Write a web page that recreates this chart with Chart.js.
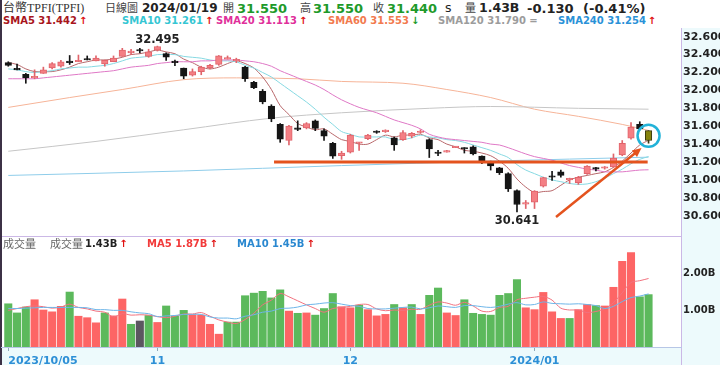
<!DOCTYPE html>
<html><head><meta charset="utf-8">
<script src="https://cdn.jsdelivr.net/npm/chart.js@4.4.1/dist/chart.umd.min.js"></script>
<style>
html,body{margin:0;padding:0;background:#fff;}
#wrap{position:relative;width:720px;height:365px;overflow:hidden;background:#fff;}
.t{position:absolute;white-space:nowrap;line-height:1;}
.cj{font-family:"Liberation Serif","Noto Sans CJK TC",serif;font-size:12px;color:#333;}
.ck{font-family:"Noto Sans CJK TC",sans-serif;font-size:11px;color:#444;}
.cv{font-family:"Noto Sans CJK TC",sans-serif;font-size:11px;color:#666;}
.b{font-family:"DejaVu Sans",sans-serif;font-weight:bold;}
.h{font-size:12.5px;color:#222;}
.h13{font-size:13px;}
.g{color:#1e9a2a;}
.lg{font-size:10px;}
.up{color:#e01010;margin-left:2px;}
.dn{color:#1a9a2a;margin-left:2px;}
canvas{position:absolute;left:0;}
</style></head>
<body><div id="wrap">
<div style="position:absolute;left:681px;top:28px;width:39px;height:337px;background:#edfafc;border-left:1px solid #cbb8e6"></div>
<div style="position:absolute;left:0;top:347px;width:681px;height:18px;background:#edfafc"></div>
<div style="position:absolute;left:0;top:236px;width:681px;height:1px;background:#cbb8e6"></div>
<div style="position:absolute;left:0;top:0;width:2px;height:365px;background:#3c3146"></div>
<canvas id="pc" width="720" height="200" style="top:28px"></canvas>
<canvas id="vc" width="720" height="129" style="top:236px"></canvas>

<span class="t cj" style="left:3px;top:2px">台幣TPFI(TPFI)</span>
<span class="t ck" style="left:105px;top:2px">日線圖</span>
<span class="t b h" style="left:142px;top:2px;font-size:12px">2024/01/19</span>
<span class="t ck" style="left:223px;top:2px">開</span>
<span class="t b h h13 g" style="left:237px;top:2px">31.550</span>
<span class="t ck" style="left:300px;top:2px">高</span>
<span class="t b h h13 g" style="left:313px;top:2px">31.550</span>
<span class="t ck" style="left:373px;top:2px">收</span>
<span class="t b h h13 g" style="left:387px;top:2px">31.440</span>
<span class="t h" style="left:445px;top:2px;font-family:'DejaVu Sans'">s</span>
<span class="t ck" style="left:465px;top:2px">量</span>
<span class="t b h" style="left:479px;top:2px">1.43B</span>
<span class="t b h h13" style="left:527px;top:2px;word-spacing:5px">-0.130 (-0.41%)</span>

<span class="t b lg" style="left:3px;top:16px;color:#a8151b">SMA5 31.442<span class="up">↑</span></span>
<span class="t b lg" style="left:122px;top:16px;color:#35c6d3">SMA10 31.261<span class="up">↑</span></span>
<span class="t b lg" style="left:216px;top:16px;color:#e0309a">SMA20 31.113<span class="up">↑</span></span>
<span class="t b lg" style="left:328px;top:16px;color:#f27a4e">SMA60 31.553<span class="dn">↓</span></span>
<span class="t b lg" style="left:438px;top:16px;color:#9c9c9c">SMA120 31.790 =</span>
<span class="t b lg" style="left:558px;top:16px;color:#2a92d8">SMA240 31.254<span class="up">↑</span></span>

<span class="t cv" style="left:3px;top:238px">成交量</span>
<span class="t cv" style="left:50px;top:238px">成交量</span>
<span class="t b lg" style="left:85px;top:239px;color:#222">1.43B<span class="up">↑</span></span>
<span class="t b lg" style="left:147px;top:239px;color:#f23b3b">MA5 1.87B<span class="up">↑</span></span>
<span class="t b lg" style="left:237px;top:239px;color:#2a88d0">MA10 1.45B<span class="up">↑</span></span>
</div>
<script>
const dates = ['2023/10/05','2023/10/06','2023/10/11','2023/10/12','2023/10/13','2023/10/16','2023/10/17','2023/10/18','2023/10/19','2023/10/20','2023/10/23','2023/10/24','2023/10/25','2023/10/26','2023/10/27','2023/10/30','2023/10/31',
'2023/11/01','2023/11/02','2023/11/03','2023/11/06','2023/11/07','2023/11/08','2023/11/09','2023/11/10','2023/11/13','2023/11/14','2023/11/15','2023/11/16','2023/11/17','2023/11/20','2023/11/21','2023/11/22','2023/11/23','2023/11/24','2023/11/27','2023/11/28','2023/11/29','2023/11/30',
'2023/12/01','2023/12/04','2023/12/05','2023/12/06','2023/12/07','2023/12/08','2023/12/11','2023/12/12','2023/12/13','2023/12/14','2023/12/15','2023/12/18','2023/12/19','2023/12/20','2023/12/21','2023/12/22','2023/12/25','2023/12/26','2023/12/27','2023/12/28','2023/12/29',
'2024/01/02','2024/01/03','2024/01/04','2024/01/05','2024/01/08','2024/01/09','2024/01/10','2024/01/11','2024/01/12','2024/01/15','2024/01/16','2024/01/17','2024/01/18','2024/01/19'];

const openP  = [32.31,32.23,32.18,32.14,32.19,32.25,32.27,32.32,32.32,32.34, 32.33,32.295,32.32,32.38,32.42,32.45,32.38,32.45,32.41,32.32, 32.25,32.17,32.21,32.25,32.29,32.35,32.33,32.26,32.09,31.99, 31.825,31.62,31.44,31.57,31.58,31.66,31.55,31.41,31.27,31.31, 31.41,31.46,31.535,31.54,31.47,31.45,31.49,31.53,31.45,31.30, 31.31,31.36,31.35,31.37,31.265,31.20,31.135,31.07,30.88,30.73, 30.75,30.93,31.035,31.09,31.00,30.97,31.07,31.125,31.13,31.145, 31.28,31.465,31.62,31.55];
const highP  = [32.32,32.295,32.19,32.23,32.26,32.31,32.335,32.39,32.395,32.385, 32.385,32.34,32.385,32.47,32.46,32.47,32.46,32.495,32.42,32.34, 32.25,32.24,32.27,32.29,32.39,32.385,32.36,32.27,32.10,32.01, 31.84,31.63,31.61,31.66,31.64,31.67,31.57,31.42,31.32,31.51, 31.42,31.51,31.55,31.56,31.48,31.55,31.53,31.56,31.46,31.33, 31.33,31.37,31.36,31.38,31.27,31.21,31.14,31.08,30.89,30.77, 30.88,31.03,31.095,31.11,31.02,31.04,31.16,31.14,31.15,31.29, 31.44,31.64,31.65,31.55];
const lowP   = [32.27,32.23,32.08,32.13,32.19,32.24,32.26,32.29,32.32,32.34, 32.33,32.27,32.32,32.38,32.40,32.42,32.37,32.44,32.335,32.275, 32.13,32.16,32.175,32.24,32.28,32.35,32.31,32.10,32.02,31.85, 31.65,31.42,31.39,31.55,31.57,31.55,31.44,31.24,31.23,31.30, 31.33,31.45,31.52,31.53,31.33,31.44,31.47,31.52,31.25,31.27, 31.31,31.36,31.30,31.28,31.18,31.11,31.06,30.87,30.641,30.68, 30.68,30.92,30.995,31.03,30.96,30.95,31.06,31.10,31.12,31.14, 31.27,31.455,31.56,31.41];
const closeP = [32.28,32.23,32.14,32.15,32.23,32.30,32.32,32.31,32.335,32.34, 32.36,32.335,32.36,32.45,32.44,32.44,32.43,32.49,32.37,32.31, 32.16,32.21,32.26,32.28,32.385,32.36,32.34,32.13,32.03,31.87, 31.68,31.455,31.60,31.565,31.63,31.575,31.49,31.265,31.30,31.50, 31.42,31.50,31.53,31.545,31.39,31.53,31.52,31.54,31.345,31.295, 31.32,31.365,31.345,31.29,31.205,31.155,31.08,30.90,30.725,30.74, 30.875,31.025,31.03,31.05,31.015,31.03,31.155,31.12,31.135,31.245, 31.41,31.59,31.57,31.44];
const closeBeforeFirst = 32.31;

const volume = [1.18,0.93,1.09,1.29,1.01,0.96,1.11,1.50,0.84,0.80, 0.66,0.93,0.85,1.31,0.62,0.71,0.86,0.67,1.12,0.84, 1.00,0.88,0.87,0.62,0.35,0.68,0.68,1.40,1.47,1.52, 1.34,1.56,0.98,0.92,0.93,0.87,1.05,1.46,1.10,1.07, 1.14,1.02,0.85,0.89,1.16,1.07,1.16,0.89,1.41,1.61, 0.93,0.86,1.29,0.92,0.89,0.87,1.41,1.46,1.84,1.07, 1.02,1.49,0.96,0.78,0.78,1.02,1.16,1.13,1.12,1.63, 2.34,2.58,1.37,1.43];
const volMa5 = [1.00,1.05,1.10,1.12,1.10,1.06,1.09,1.17,1.08,1.04, 0.98,0.95,0.82,0.91,0.87,0.88,0.87,0.83,0.80,0.84, 0.90,0.90,0.94,0.84,0.74,0.68,0.64,0.75,0.92,1.15, 1.28,1.46,1.37,1.26,1.15,1.05,0.95,1.05,1.08,1.11, 1.16,1.16,1.04,0.99,1.01,1.00,1.03,1.03,1.14,1.23, 1.20,1.14,1.22,1.12,0.98,0.97,1.08,1.11,1.29,1.33, 1.36,1.38,1.28,1.06,1.01,1.01,0.94,0.97,1.04,1.21, 1.48,1.76,1.81,1.87];
const volMa10 = [1.05,1.05,1.06,1.07,1.08,1.08,1.08,1.08,1.08,1.07, 1.02,1.02,1.00,1.00,0.96,0.93,0.91,0.83,0.85,0.86, 0.89,0.89,0.89,0.82,0.79,0.79,0.77,0.84,0.88,0.95, 0.98,1.05,1.06,1.09,1.15,1.17,1.20,1.21,1.17,1.13, 1.11,1.05,1.04,1.04,1.06,1.08,1.09,1.04,1.07,1.12, 1.10,1.08,1.13,1.13,1.10,1.08,1.11,1.17,1.21,1.15, 1.16,1.23,1.19,1.18,1.17,1.18,1.16,1.13,1.05,1.11, 1.24,1.35,1.39,1.45];

const sma5 = [32.31,32.29,32.24,32.21,32.21,32.21,32.23,32.26,32.30,32.32, 32.34,32.34,32.35,32.37,32.40,32.41,32.43,32.45,32.43,32.41, 32.35,32.31,32.26,32.24,32.26,32.30,32.33,32.30,32.25,32.15, 32.01,31.83,31.73,31.63,31.59,31.56,31.57,31.51,31.45,31.43, 31.40,31.40,31.45,31.50,31.48,31.50,31.50,31.51,31.47,31.45, 31.40,31.37,31.33,31.32,31.30,31.27,31.21,31.13,31.01,30.92, 30.86,30.87,30.88,30.94,31.00,31.03,31.05,31.07,31.09,31.14, 31.21,31.30,31.39,31.442];
const sma10 = [32.24,32.23,32.21,32.20,32.21,32.22,32.24,32.25,32.26,32.26, 32.27,32.28,32.30,32.33,32.36,32.37,32.38,32.40,32.40,32.40, 32.38,32.37,32.36,32.34,32.33,32.33,32.32,32.28,32.25,32.20, 32.15,32.08,32.01,31.94,31.87,31.79,31.70,31.62,31.54,31.51, 31.48,31.48,31.48,31.48,31.45,31.45,31.47,31.50,31.48,31.47, 31.45,31.44,31.42,31.39,31.36,31.33,31.29,31.25,31.17,31.11, 31.07,31.03,31.00,30.98,30.96,30.95,30.955,30.98,31.02,31.07, 31.12,31.18,31.23,31.261];
const sma20 = [32.13,32.13,32.13,32.13,32.14,32.15,32.16,32.17,32.18,32.19, 32.20,32.21,32.22,32.24,32.26,32.27,32.28,32.30,32.31,32.32, 32.32,32.32,32.33,32.33,32.34,32.34,32.34,32.33,32.32,32.30, 32.27,32.22,32.18,32.14,32.10,32.06,32.01,31.95,31.895,31.85, 31.81,31.78,31.75,31.71,31.67,31.64,31.61,31.57,31.51,31.48, 31.46,31.45,31.44,31.43,31.42,31.40,31.39,31.36,31.325,31.29, 31.26,31.24,31.22,31.19,31.16,31.14,31.12,31.11,31.09,31.09, 31.09,31.10,31.11,31.113];
const sma60Idx = [0,7,13,20,26,33,38,45,50,55,60,65,70,73];
const sma60    = [31.81,31.92,32.01,32.12,32.14,32.13,32.10,32.08,32.01,31.92,31.79,31.71,31.62,31.553];
const sma120Idx = [0,10,20,30,38,48,55,65,73];
const sma120    = [31.32,31.43,31.56,31.69,31.75,31.80,31.82,31.80,31.79];
const sma240Idx = [0,20,38,55,73];
const sma240    = [31.05,31.10,31.16,31.21,31.254];

const priceTicks = [32.6,32.4,32.2,32.0,31.8,31.6,31.4,31.2,31.0,30.8,30.6];
const volTicks = [1,2];

const supportLevel = 31.2, supportFrom = 30.3, supportTo = 72.9;
const arrowFrom = [62.45, 30.585], arrowTo = [72.2, 31.356];
const highlightIdx = 73, highlightPrice = 31.493;

const X_MIN = -0.83, X_MAX = 76.7;
const P_MIN = 30.4626, P_MAX = 32.6972;
const V_MAX = 3.03;

const idx = closeP.map((_, i) => i);
const RED = '#f47f84', RED_B = '#e0646b', BLK = '#151515', LAST = '#85830e', LAST_B = '#3a3a10';
const candleFill = idx.map(i => i === highlightIdx ? LAST : (closeP[i] > openP[i] ? RED : BLK));
const candleEdge = idx.map(i => i === highlightIdx ? LAST_B : (closeP[i] > openP[i] ? RED_B : BLK));
const volColor = idx.map(i => {
  const prev = i ? closeP[i-1] : closeBeforeFirst;
  return closeP[i] > prev ? '#fd6565' : (closeP[i] < prev ? '#5cb95c' : '#5b5660');
});

const monthStarts = idx.filter(i => i === 0 || dates[i].slice(0,7) !== dates[i-1].slice(0,7));
function tickLabel(v) {
  const k = monthStarts.indexOf(v);
  if (k < 0) return '';
  if (v === 0) return dates[0];
  const prev = dates[monthStarts[k-1]];
  const d = dates[v];
  if (d.slice(0,4) !== prev.slice(0,4)) return d.slice(0,7);
  return String(parseInt(d.slice(5,7), 10));
}

function fullLine(arr, color) {
  return {type:'line', data: arr.map((v, i) => ({x:i, y:v})), borderColor:color, borderWidth:1,
    pointRadius:0, tension:0.3, fill:false, order:10};
}
function sparseLine(ix, arr, color) {
  return {type:'line', data: ix.map((v, k) => ({x:v, y:arr[k]})), borderColor:color, borderWidth:1,
    pointRadius:0, cubicInterpolationMode:'monotone', fill:false, order:11};
}
function fixY(s) { s.width = 39; s.paddingTop = 0; s.paddingBottom = 0; }

const notes = {
  id: 'notes',
  afterDatasetsDraw(chart) {
    const {ctx, scales:{x, y}} = chart;
    ctx.save();
    ctx.strokeStyle = '#e4531e'; ctx.lineWidth = 3; ctx.lineCap = 'butt';
    const sy = y.getPixelForValue(supportLevel);
    ctx.beginPath(); ctx.moveTo(x.getPixelForValue(supportFrom), sy); ctx.lineTo(x.getPixelForValue(supportTo), sy); ctx.stroke();

    const ax0 = x.getPixelForValue(arrowFrom[0]), ay0 = y.getPixelForValue(arrowFrom[1]);
    const ax1 = x.getPixelForValue(arrowTo[0]), ay1 = y.getPixelForValue(arrowTo[1]);
    const ang = Math.atan2(ay1 - ay0, ax1 - ax0), head = 10;
    ctx.lineWidth = 2.5;
    ctx.beginPath(); ctx.moveTo(ax0, ay0);
    ctx.lineTo(ax1 - head * 0.8 * Math.cos(ang), ay1 - head * 0.8 * Math.sin(ang)); ctx.stroke();
    ctx.fillStyle = '#e4531e';
    ctx.beginPath(); ctx.moveTo(ax1, ay1);
    ctx.lineTo(ax1 - head * Math.cos(ang - 0.42), ay1 - head * Math.sin(ang - 0.42));
    ctx.lineTo(ax1 - head * Math.cos(ang + 0.42), ay1 - head * Math.sin(ang + 0.42));
    ctx.closePath(); ctx.fill();

    ctx.strokeStyle = '#22b2d8'; ctx.lineWidth = 2.5;
    ctx.beginPath();
    ctx.arc(x.getPixelForValue(highlightIdx), y.getPixelForValue(highlightPrice), 11, 0, Math.PI * 2);
    ctx.stroke();

    let hi = 0, lo = 0;
    idx.forEach(i => { if (highP[i] > highP[hi]) hi = i; if (lowP[i] < lowP[lo]) lo = i; });
    ctx.fillStyle = '#222'; ctx.font = 'bold 11.5px "DejaVu Sans"'; ctx.textAlign = 'center'; ctx.textBaseline = 'alphabetic';
    ctx.fillText(highP[hi].toFixed(3), x.getPixelForValue(hi), y.getPixelForValue(highP[hi]) - 3);
    ctx.fillText(lowP[lo].toFixed(3), x.getPixelForValue(lo), y.getPixelForValue(lowP[lo]) + 12);
    ctx.restore();
  }
};

new Chart(document.getElementById('pc'), {
  type: 'bar',
  data: { datasets: [
    sparseLine(sma240Idx, sma240, '#8fcdea'),
    sparseLine(sma120Idx, sma120, '#c6c6c6'),
    sparseLine(sma60Idx, sma60, '#f6b498'),
    fullLine(sma20, '#df78c6'),
    fullLine(sma10, '#86d9e2'),
    fullLine(sma5, '#b8676a'),
    {type:'bar', data: idx.map(i => ({x:i, y:[lowP[i], highP[i]]})), backgroundColor: candleEdge,
      barThickness: 1, grouped: false, order: 3},
    {type:'bar', data: idx.map(i => ({x:i, y:[openP[i], closeP[i]]})), backgroundColor: candleFill,
      borderColor: candleEdge, borderWidth: 1, borderSkipped: false, barThickness: 6.5, minBarLength: 1.5,
      grouped: false, order: 2}
  ]},
  options: {
    responsive: false, animation: false, devicePixelRatio: 1,
    layout: {padding: {left: 1, right: 0, top: 0, bottom: 0}},
    plugins: {legend: {display: false}, tooltip: {enabled: false}},
    scales: {
      x: {type: 'linear', min: X_MIN, max: X_MAX, display: false, offset: false, grid: {offset: false}},
      y: {type: 'linear', position: 'right', min: P_MIN, max: P_MAX,
        grid: {display: false, drawTicks: false}, border: {display: false},
        afterBuildTicks: s => { s.ticks = priceTicks.map(v => ({value: v})); },
        afterFit: fixY,
        ticks: {padding: 2, color: '#222', font: {family: 'DejaVu Sans', size: 11, weight: 'bold'},
          callback: v => Number(v).toFixed(3)}}
    }
  },
  plugins: [notes]
});

new Chart(document.getElementById('vc'), {
  type: 'bar',
  data: { datasets: [
    {type:'line', data: idx.map(i => ({x:i, y:volMa10[i]})), borderColor:'#6db5e8', borderWidth:1, pointRadius:0, tension:0.3, order:1},
    {type:'line', data: idx.map(i => ({x:i, y:volMa5[i]})), borderColor:'#f2727f', borderWidth:1, pointRadius:0, tension:0.3, order:1},
    {type:'bar', data: idx.map(i => ({x:i, y:volume[i]})), backgroundColor: volColor, barThickness: 7.4, grouped: false, order: 2}
  ]},
  options: {
    responsive: false, animation: false, devicePixelRatio: 1,
    layout: {padding: {left: 1, right: 0, top: 0, bottom: 0}},
    plugins: {legend: {display: false}, tooltip: {enabled: false}},
    scales: {
      x: {type: 'linear', min: X_MIN, max: X_MAX, position: 'bottom', offset: false,
        grid: {display: true, offset: false, drawOnChartArea: false, drawTicks: true, tickLength: 4,
          color: c => (c.tick && c.tick.value === X_MAX) ? 'rgba(0,0,0,0)' : '#8fa8b8'},
        border: {display: true, color: '#b7c6e6', width: 1},
        afterBuildTicks: s => { s.ticks = monthStarts.concat([X_MAX]).map(v => ({value: v})); },
        afterFit: s => { s.height = 18; s.paddingLeft = 0; s.paddingRight = 0; },
        ticks: {align: 'inner', padding: 4, color: '#2d8fd6', autoSkip: false, maxRotation: 0,
          font: {family: 'DejaVu Sans', size: 11, weight: 'bold'}, callback: v => tickLabel(v)}},
      y: {type: 'linear', position: 'right', min: 0, max: V_MAX,
        grid: {display: false, drawTicks: false}, border: {display: false},
        afterBuildTicks: s => { s.ticks = volTicks.map(v => ({value: v})); },
        afterFit: fixY,
        ticks: {padding: 2, color: '#222', font: {family: 'DejaVu Sans', size: 10, weight: 'bold'},
          callback: v => Number(v).toFixed(2) + 'B'}}
    }
  }
});
</script>
</body></html>
